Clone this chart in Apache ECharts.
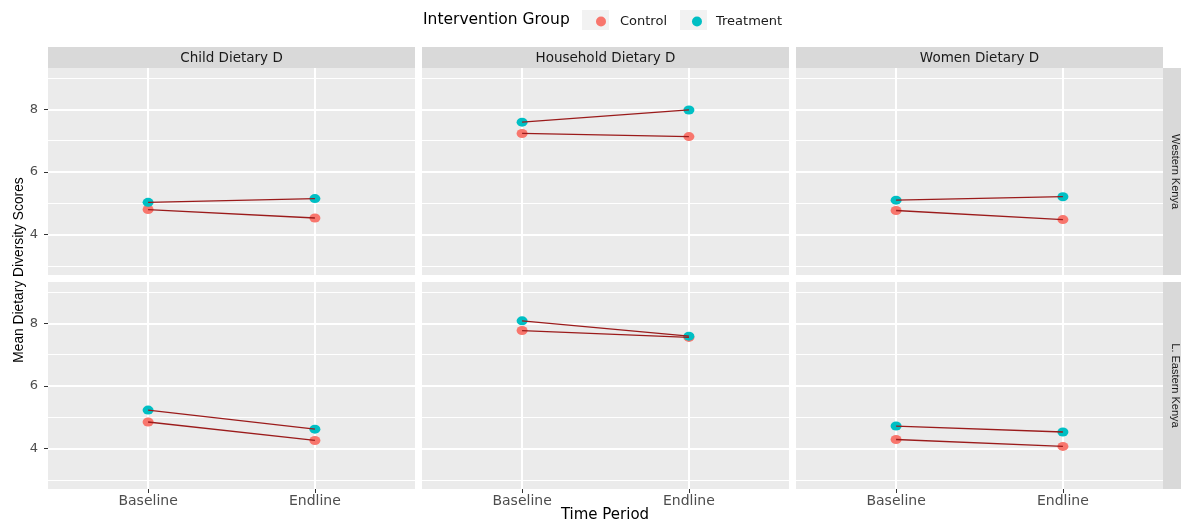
<!DOCTYPE html>
<html>
<head>
<meta charset="utf-8">
<script src="https://cdn.jsdelivr.net/npm/echarts@6/dist/echarts.min.js"></script>
<style>
  html, body { margin: 0; padding: 0; background: #fff; }
  #chart { width: 1181px; height: 521px; }
</style>
</head>
<body>
<div id="chart"></div>
<script>
// data
const periods = ['Baseline', 'Endline']
const measures = ['Child Dietary D', 'Household Dietary D', 'Women Dietary D']
const regions = ['Western Kenya', 'L. Eastern Kenya']
const groups = ['Control', 'Treatment']
const groupColors = ['#F8766D', '#00BFC4']

// one [baseline, endline] pair per measure
const controlWestern = [[4.80, 4.53], [7.23, 7.13], [4.77, 4.48]]
const treatmentWestern = [[5.03, 5.15], [7.59, 7.98], [5.10, 5.21]]
const controlEastern = [[4.85, 4.26], [7.77, 7.55], [4.29, 4.07]]
const treatmentEastern = [[5.23, 4.62], [8.08, 7.59], [4.72, 4.53]]

const majorTicks = [4, 6, 8]
const minorTicks = [3, 5, 7, 9]

const scores = [
  [controlWestern, treatmentWestern],
  [controlEastern, treatmentEastern]
]

// panel layout
const colLeft = [48, 422, 796]
const panelW = 367
const rowTop = [68, 282]
const panelH = 207
const yMin = 2.71, yMax = 9.32

const font = 'DejaVu Sans'
const grids = [], xAxes = [], yAxes = [], series = [], graphics = []

regions.forEach((region, r) => {
  measures.forEach((measure, c) => {
    const idx = r * 3 + c
    grids.push({
      left: colLeft[c], top: rowTop[r], width: panelW, height: panelH,
      show: true, backgroundColor: '#EBEBEB', borderWidth: 0
    })
    xAxes.push({
      type: 'value', gridIndex: idx, min: 0.4, max: 2.6,
      axisLine: { show: false },
      splitLine: { show: false },
      axisTick: { show: r === 1, customValues: [1, 2], length: 4, lineStyle: { color: '#333' } },
      axisLabel: {
        show: r === 1, customValues: [1, 2], margin: 5,
        fontFamily: font, fontSize: 14, color: '#4D4D4D',
        formatter: v => periods[v - 1] || ''
      }
    })
    yAxes.push({
      type: 'value', gridIndex: idx, min: yMin, max: yMax,
      axisLine: { show: false },
      splitLine: { show: false },
      axisTick: { show: c === 0, customValues: majorTicks, length: 4, lineStyle: { color: '#333' } },
      axisLabel: {
        show: c === 0, customValues: majorTicks, margin: 10,
        fontFamily: font, fontSize: 13, color: '#4D4D4D'
      }
    })

    // panel grid lines, kept under the points
    series.push({
      type: 'line', xAxisIndex: idx, yAxisIndex: idx, data: [], z: 1, silent: true,
      markLine: {
        z: 1, silent: true, symbol: 'none', animation: false, label: { show: false },
        data: [
          ...minorTicks.map(v => ({ yAxis: v, lineStyle: { color: '#fff', width: 1, type: 'solid' } })),
          ...majorTicks.map(v => ({ yAxis: v, lineStyle: { color: '#fff', width: 2, type: 'solid' } })),
          ...periods.map((p, i) => ({ xAxis: i + 1, lineStyle: { color: '#fff', width: 2, type: 'solid' } }))
        ]
      }
    })

    groups.forEach((g, gi) => {
      const vals = scores[r][gi][c]
      const pts = periods.map((p, i) => [i + 1, vals[i]])
      series.push({
        name: g, type: 'scatter', xAxisIndex: idx, yAxisIndex: idx,
        data: pts, symbolSize: [11, 9], z: 2,
        itemStyle: { color: groupColors[gi], opacity: 1 }
      })
      series.push({
        name: g + ' trend', type: 'line', xAxisIndex: idx, yAxisIndex: idx,
        data: pts, showSymbol: false, z: 3, silent: true, clip: false,
        lineStyle: { color: '#9b1b1b', width: 1.3 }
      })
    })
  })
})

// column strips
measures.forEach((m, c) => {
  graphics.push({ type: 'rect', shape: { x: colLeft[c], y: 47, width: panelW, height: 21 }, style: { fill: '#D9D9D9' } })
  graphics.push({
    type: 'text', x: colLeft[c] + panelW / 2, y: 58,
    style: { text: m, align: 'center', verticalAlign: 'middle', font: '13.5px "DejaVu Sans"', fill: '#1A1A1A' }
  })
})
// row strips
regions.forEach((reg, r) => {
  graphics.push({ type: 'rect', shape: { x: 1163, y: rowTop[r], width: 22, height: panelH }, style: { fill: '#D9D9D9' } })
  graphics.push({
    type: 'text', x: 1175, y: rowTop[r] + panelH / 2, rotation: -Math.PI / 2,
    style: { text: reg, align: 'center', verticalAlign: 'middle', font: '11px "Liberation Sans"', fill: '#1A1A1A' }
  })
})
// axis titles
graphics.push({
  type: 'text', x: 19, y: 270, rotation: Math.PI / 2,
  style: { text: 'Mean Dietary Diversity Scores', align: 'center', verticalAlign: 'middle', font: '13.8px "Liberation Sans"', fill: '#000' }
})
graphics.push({
  type: 'text', x: 605, y: 515,
  style: { text: 'Time Period', align: 'center', verticalAlign: 'middle', font: '15px "DejaVu Sans"', fill: '#000' }
})
// legend title and key backgrounds
graphics.push({
  type: 'text', x: 423, y: 20,
  style: { text: 'Intervention Group', align: 'left', verticalAlign: 'middle', font: '15.5px "DejaVu Sans"', fill: '#000' }
})
graphics.push({ type: 'rect', shape: { x: 582, y: 10, width: 27, height: 20 }, style: { fill: '#F2F2F2' } })
graphics.push({ type: 'rect', shape: { x: 680, y: 10, width: 27, height: 20 }, style: { fill: '#F2F2F2' } })

const chart = echarts.init(document.getElementById('chart'))
chart.setOption({
  animation: false,
  backgroundColor: '#fff',
  textStyle: { fontFamily: font },
  legend: {
    data: groups, left: 591, top: 10, icon: 'circle',
    itemWidth: 10, itemHeight: 10, itemGap: 25,
    textStyle: { fontFamily: font, fontSize: 13, color: '#1A1A1A', padding: [0, 0, 0, 9] }
  },
  grid: grids,
  xAxis: xAxes,
  yAxis: yAxes,
  graphic: graphics,
  series: series
})
</script>
</body>
</html>
